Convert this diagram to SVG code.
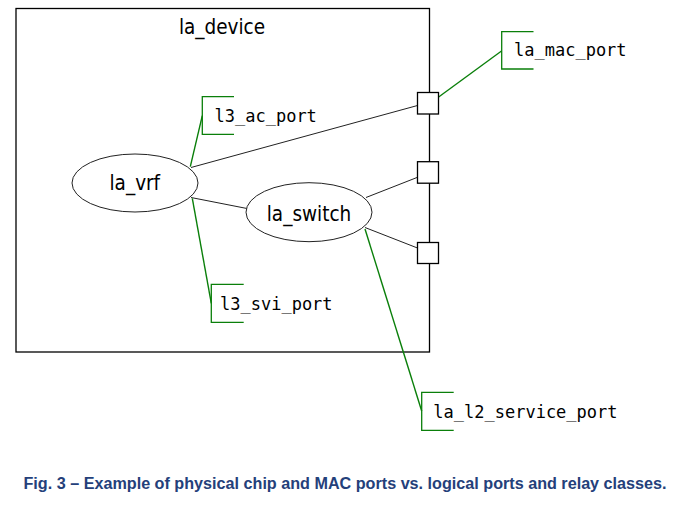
<svg xmlns="http://www.w3.org/2000/svg" width="677" height="505" viewBox="0 0 677 505">
<style>
.bg{fill:#ffffff}
.frame{fill:none;stroke:#000;stroke-width:1.3}
.port{fill:#fff;stroke:#000;stroke-width:1.3}
.ell{fill:#fff;stroke:#222;stroke-width:1}
.link{stroke:#222;stroke-width:1;fill:none}
.gl{stroke:#0a7f0a;stroke-width:1.4;fill:none}
.br{stroke:#0a7f0a;stroke-width:1.3;fill:none}
.lbl{font-family:"DejaVu Sans",sans-serif;font-stretch:condensed;font-size:20.5px;fill:#000;text-anchor:middle}
.mono{font-family:"DejaVu Sans Mono","Liberation Mono",monospace;font-size:17px;fill:#000}
.cap{font-family:"Liberation Sans",Arial,sans-serif;font-weight:bold;font-size:16px;fill:#24407a}
</style>
<rect class="bg" x="0" y="0" width="677" height="505"/>
<g id="la_device">
<rect class="frame" x="16" y="8.5" width="413.5" height="343.5"/>
<text class="lbl" x="222" y="34">la_device</text>
</g>
<g id="connectors">
<line class="link" x1="191" y1="167.5" x2="417.5" y2="105.5"/>
<line class="link" x1="191" y1="197.5" x2="247" y2="208.5"/>
<line class="link" x1="366" y1="197.5" x2="417.5" y2="177.3"/>
<line class="link" x1="365" y1="227.5" x2="417.5" y2="248"/>
<line class="gl" x1="501.5" y1="51" x2="432.5" y2="101.5"/>
<line class="gl" x1="202.3" y1="115.7" x2="190.3" y2="166.7"/>
<line class="gl" x1="192.3" y1="198.3" x2="211.3" y2="303.3"/>
<line class="gl" x1="365" y1="229" x2="421.7" y2="411"/>
</g>
<g id="port_top"><rect class="port" x="417.5" y="92.5" width="21" height="21.5"/></g>
<g id="port_mid"><rect class="port" x="417.5" y="161.7" width="21" height="21.5"/></g>
<g id="port_bot"><rect class="port" x="417.5" y="242.5" width="21" height="21"/></g>
<g id="la_vrf">
<ellipse class="ell" cx="135" cy="183" rx="63" ry="29"/>
<text class="lbl" x="134.8" y="190">la_vrf</text>
</g>
<g id="la_switch">
<ellipse class="ell" cx="309" cy="212.2" rx="63" ry="29.5"/>
<text class="lbl" x="309" y="220.5">la_switch</text>
</g>
<g id="la_mac_port">
<path class="br" d="M533.5,31.7 H501.7 V69 H533.5"/>
<text class="mono" x="514" y="56">la_mac_port</text>
</g>
<g id="l3_ac_port">
<path class="br" d="M234,96.7 H202.3 V134.3 H234"/>
<text class="mono" x="214.5" y="121.5">l3_ac_port</text>
</g>
<g id="l3_svi_port">
<path class="br" d="M243.7,284.3 H211.3 V322.3 H243.7"/>
<text class="mono" x="220" y="310">l3_svi_port</text>
</g>
<g id="la_l2_service_port">
<path class="br" d="M453.7,392.3 H421.7 V430.3 H453.7"/>
<text class="mono" x="433.3" y="417.5">la_l2_service_port</text>
</g>
<text class="cap" x="23.5" y="488.5" textLength="643" lengthAdjust="spacingAndGlyphs">Fig. 3 – Example of physical chip and MAC ports vs. logical ports and relay classes.</text>
</svg>
